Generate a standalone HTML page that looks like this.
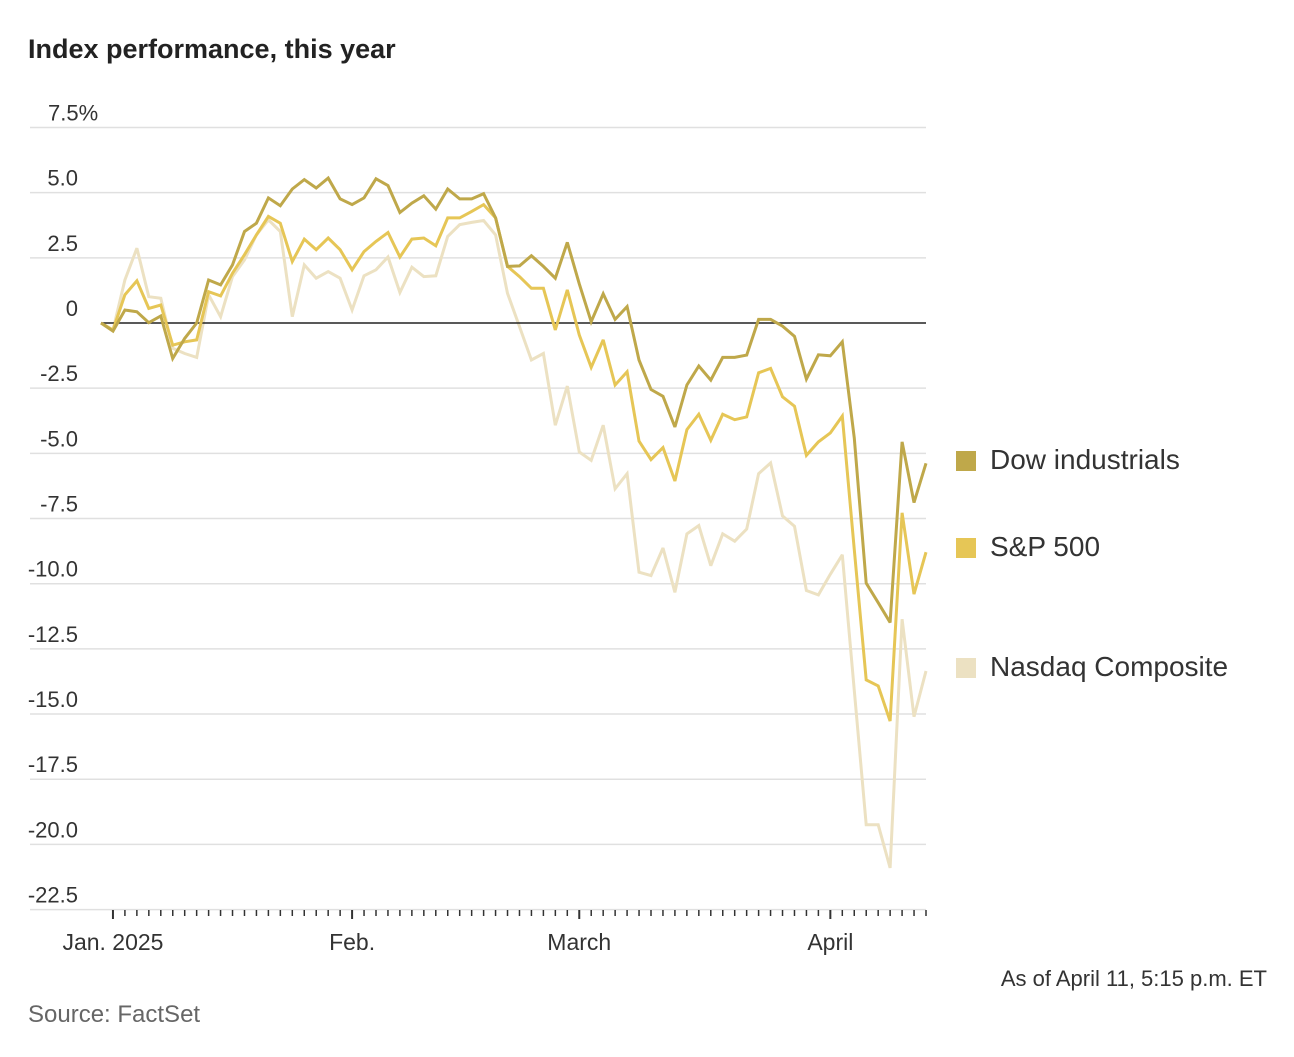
<!DOCTYPE html>
<html><head><meta charset="utf-8"><style>
html,body{margin:0;padding:0;background:#fff;}
body{width:1294px;height:1052px;overflow:hidden;font-family:"Liberation Sans",sans-serif;}
svg text{font-family:"Liberation Sans Narrow","Liberation Sans",sans-serif;}
</style></head><body>
<svg id="chart" width="1294" height="1052" viewBox="0 0 1294 1052" xmlns="http://www.w3.org/2000/svg">
<text x="28" y="58" font-size="27" font-weight="bold" fill="#222" style="font-family:'Liberation Sans Narrow','Liberation Sans',sans-serif">Index performance, this year</text>
<g id="grid"></g>
<g id="yticks"></g>
<g id="xaxis"></g>
<g id="series"></g>
<g>
<g><rect x="956" y="451" width="20" height="20" fill="#bfa84a"/><text x="990" y="469" font-size="28" fill="#333" style="font-family:'Liberation Sans',sans-serif">Dow industrials</text></g>
<g><rect x="956" y="538" width="20" height="20" fill="#e6c656"/><text x="990" y="556" font-size="28" fill="#333" style="font-family:'Liberation Sans',sans-serif">S&amp;P 500</text></g>
<g><rect x="956" y="658" width="20" height="20" fill="#ece1c2"/><text x="990" y="676" font-size="28" fill="#333" style="font-family:'Liberation Sans',sans-serif">Nasdaq Composite</text></g>
</g>
<text x="1267" y="986" font-size="22" fill="#333" text-anchor="end">As of April 11, 5:15 p.m. ET</text>
<text x="28" y="1022" font-size="24" fill="#666" style="font-family:'Liberation Sans',sans-serif">Source: FactSet</text>
</svg>
<script>
const yTicks = [7.5, 5, 2.5, 0, -2.5, -5, -7.5, -10, -12.5, -15, -17.5, -20, -22.5];
const yTickLabels = ["7.5%", "5.0", "2.5", "0", "-2.5", "-5.0", "-7.5", "-10.0", "-12.5", "-15.0", "-17.5", "-20.0", "-22.5"];
const monthLabels = ["Jan. 2025", "Feb.", "March", "April"];
const monthStartIndex = [1, 21, 40, 61];
const dow = [0,-0.31,0.5,0.43,0.01,0.27,-1.36,-0.59,0,1.65,1.46,2.23,3.51,3.83,4.8,4.5,5.14,5.5,5.18,5.56,4.76,4.54,4.8,5.53,5.27,4.24,4.6,4.88,4.37,5.14,4.76,4.76,4.96,4.03,2.17,2.19,2.58,2.17,1.72,3.09,1.5,0.05,1.12,0.14,0.63,-1.42,-2.55,-2.81,-3.99,-2.38,-1.65,-2.19,-1.32,-1.32,-1.23,0.14,0.14,-0.12,-0.51,-2.15,-1.22,-1.26,-0.72,-4.42,-9.98,-10.73,-11.49,-4.56,-6.89,-5.38];
const sp500 = [0,-0.27,1.08,1.62,0.56,0.69,-0.85,-0.72,-0.65,1.2,1.04,1.91,2.62,3.38,4.09,3.83,2.36,3.22,2.81,3.26,2.81,2.04,2.74,3.13,3.47,2.53,3.22,3.26,2.96,4.03,4.03,4.28,4.54,4.03,2.17,1.78,1.33,1.33,-0.27,1.27,-0.46,-1.7,-0.65,-2.38,-1.87,-4.53,-5.24,-4.78,-6.06,-4.09,-3.5,-4.5,-3.5,-3.71,-3.6,-1.91,-1.74,-2.83,-3.19,-5.08,-4.56,-4.22,-3.57,-8.7,-13.69,-13.92,-15.27,-7.28,-10.4,-8.79];
const nasdaq = [0,-0.27,1.65,2.87,1.01,0.95,-0.97,-1.17,-1.32,1.08,0.24,1.78,2.42,3.38,3.96,3.51,0.24,2.23,1.72,1.97,1.72,0.5,1.81,2.04,2.53,1.17,2.14,1.78,1.81,3.32,3.77,3.86,3.93,3.38,1.14,-0.14,-1.42,-1.17,-3.92,-2.42,-4.95,-5.27,-3.92,-6.36,-5.78,-9.56,-9.69,-8.63,-10.33,-8.09,-7.77,-9.31,-8.09,-8.37,-7.9,-5.78,-5.37,-7.4,-7.8,-10.26,-10.43,-9.64,-8.89,-14.1,-19.25,-19.25,-20.9,-11.36,-15.1,-13.35];

const NS = "http://www.w3.org/2000/svg";
const X0 = 101, X1 = 926, Y0 = 323, PX = 26.07;
const nPts = dow.length;
function xs(i){ return X0 + i * (X1 - X0) / (nPts - 1); }
function ys(v){ return Y0 - v * PX; }
function mk(tag, attrs, parent){ const e = document.createElementNS(NS, tag); for (const k in attrs) e.setAttribute(k, attrs[k]); parent.appendChild(e); return e; }

const grid = document.getElementById('grid');
const yt = document.getElementById('yticks');
yTicks.forEach((v, k) => {
  if (v === 0) return;
  const l = mk('line', {x1: 30, x2: X1, y1: ys(v), y2: ys(v), stroke: '#e0e0e0', 'stroke-width': 1.5}, grid);
  
  
});
yTicks.forEach((v, k) => {
  const t = mk('text', {x: 78, y: ys(v) - 7, 'font-size': 22, fill: '#333', 'text-anchor': 'end'}, yt);
  t.textContent = yTickLabels[k].replace('%', '');
  if (yTickLabels[k].indexOf('%') >= 0) { const s = mk('tspan', {}, t); s.textContent = '%'; t.setAttribute('text-anchor','start'); t.setAttribute('x', 48); }
  
  
});

const xa = document.getElementById('xaxis');
for (let i = 1; i < nPts; i++) {
  const major = monthStartIndex.indexOf(i) >= 0;
  const tk = mk('line', {x1: xs(i), x2: xs(i), y1: 910, y2: major ? 919 : 916, stroke: '#333', 'stroke-width': major ? 2 : 1.5}, xa);
  
  
}
monthLabels.forEach((m, k) => {
  const i = monthStartIndex[k];
  const t = mk('text', {x: xs(i), y: 950, 'font-size': 23, fill: '#333', 'text-anchor': 'middle'}, xa);
  t.textContent = m;
  
  
});

const sg = document.getElementById('series');
function drawLine(arr, color, name){
  const d = arr.map((v, i) => (i ? 'L' : 'M') + xs(i).toFixed(1) + ' ' + ys(v).toFixed(1)).join(' ');
  const p = mk('path', {d: d, fill: 'none', stroke: color, 'stroke-width': 3, 'stroke-linejoin': 'miter', 'stroke-miterlimit': 3}, sg);
  
  
}
drawLine(nasdaq, '#ece1c2', 'nasdaq-line');
const zl = mk('line', {x1: X0, x2: X1, y1: Y0, y2: Y0, stroke: '#222', 'stroke-width': 1.5}, sg);


drawLine(sp500, '#e6c656', 'sp500-line');
drawLine(dow, '#bfa84a', 'dow-line');
</script>
</body></html>
